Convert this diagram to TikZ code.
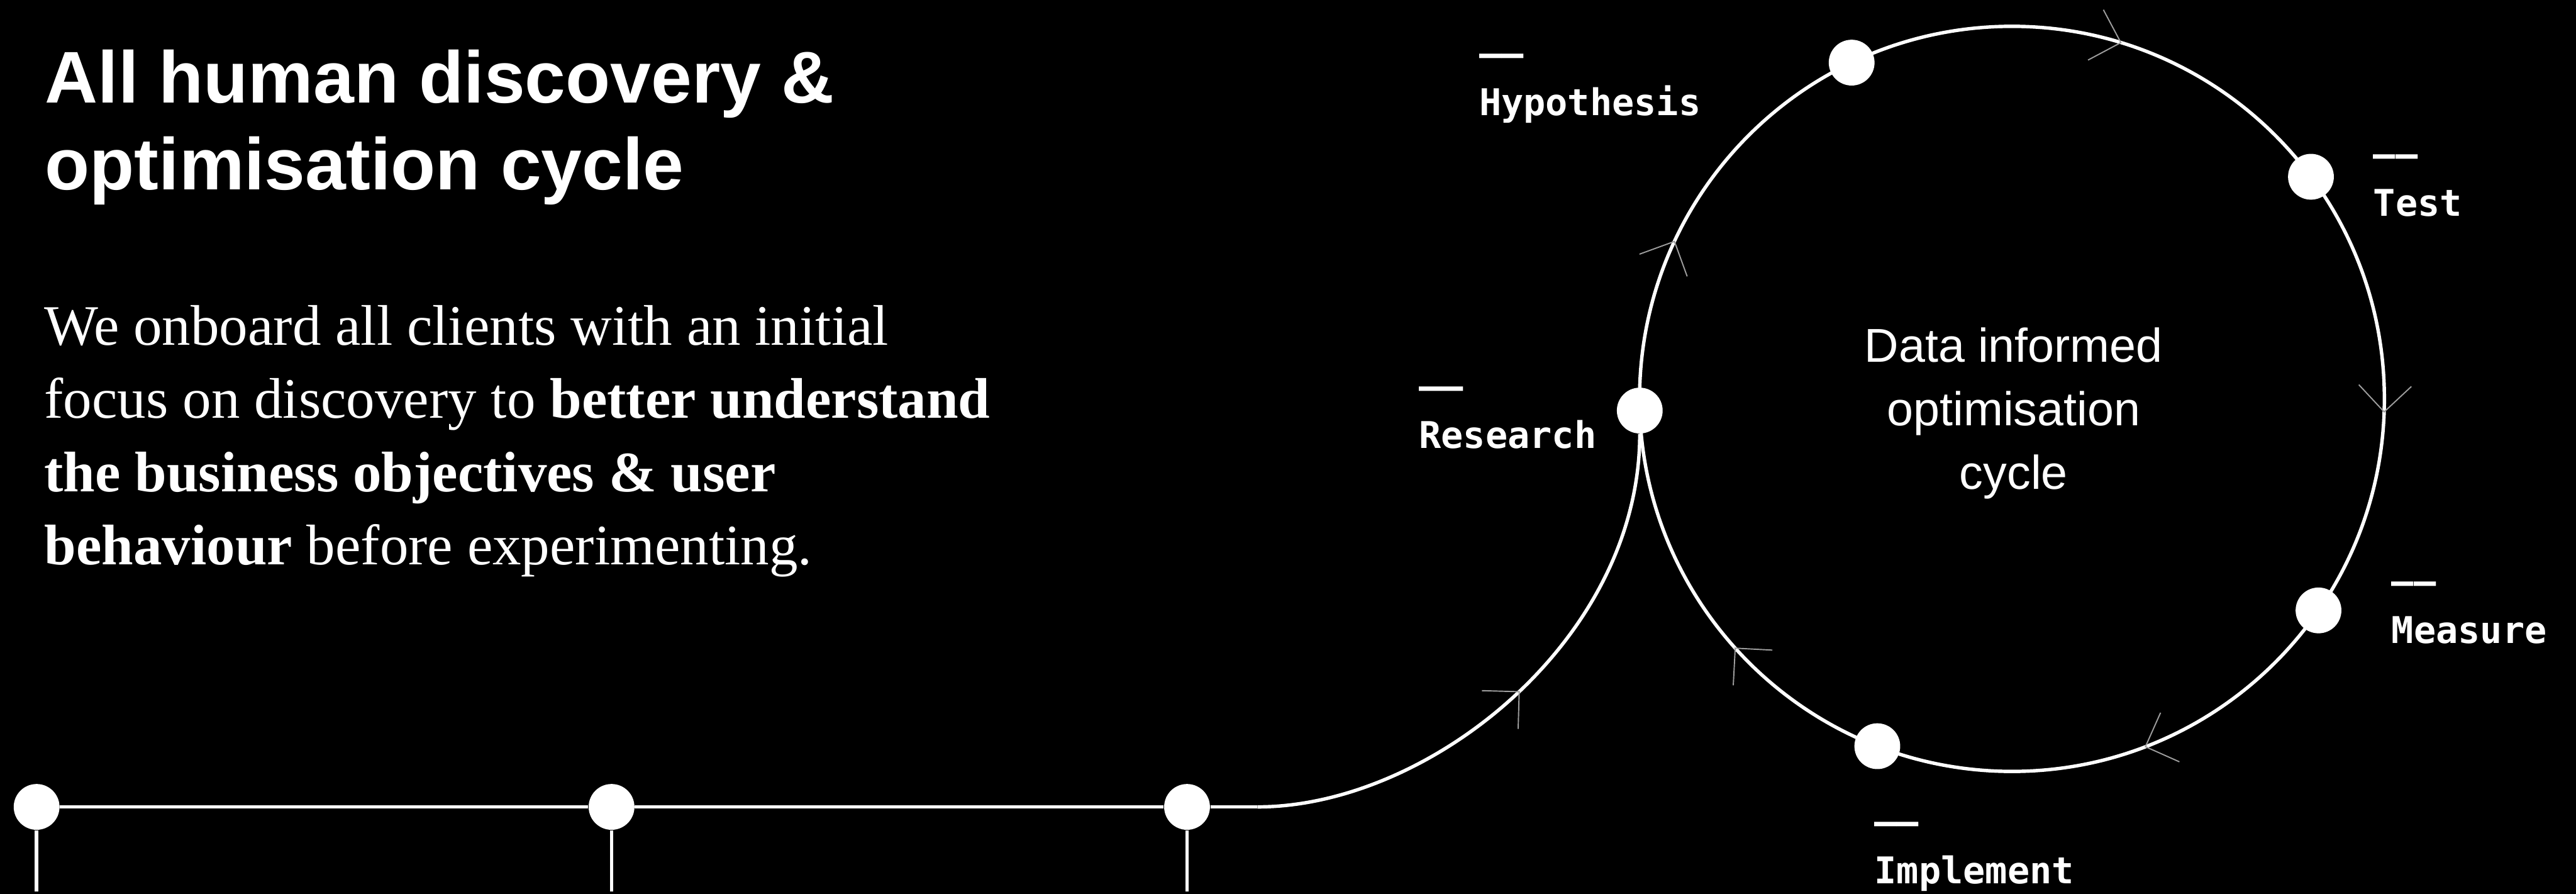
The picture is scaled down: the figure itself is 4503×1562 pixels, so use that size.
\documentclass[tikz,border=0pt]{standalone}
\usepackage{fontspec}
\setmainfont{Liberation Serif}
\newfontfamily\headfont{Liberation Sans}
\newfontfamily\tagfont{DejaVu Sans Mono}
\usepackage{tikz}
\usetikzlibrary{decorations.markings}
\definecolor{tickgray}{gray}{0.62}

\begin{document}
\begin{tikzpicture}[
x=0.01cm, y=0.01cm,
line/.style={white, line width=1.7pt},
dot/.style={circle, fill=white, minimum size=0.8cm, inner sep=0pt},
chev/.style={tickgray, line width=0.6pt},
tag/.style={text=white, inner sep=0pt, anchor=base west,
	font=\tagfont\bfseries\fontsize{18.3pt}{24pt}\selectfont},
flow/.style={postaction={decorate}, decoration={markings,
	mark=at position .5 with {\draw[chev] (-46,46) -- (0,0) -- (-46,-46);}}}
]
\fill[black] (0,0) rectangle (4503,1562);
\useasboundingbox (0,0) rectangle (4503,1562);

\node[text=white, inner sep=0pt, anchor=base west, align=left,
	font=\headfont\bfseries\fontsize{36.4pt}{43.2pt}\selectfont] (title) at (78,1230)
	{All human discovery \&\\optimisation cycle};
\node[text=white, inner sep=0pt, anchor=base west, align=left,
	font=\fontsize{28.45pt}{36.4pt}\selectfont] (intro) at (77,575)
	{We onboard all clients with an initial\\
	focus on discovery to \textbf{better understand}\\
	\textbf{the business objectives \& user}\\
	\textbf{behaviour} before experimenting.};

\coordinate (C) at (3517,865);
\node[text=white, inner sep=0pt, anchor=base, align=center,
	font=\headfont\fontsize{23.6pt}{31.6pt}\selectfont] (core) at (3520,707)
	{Data informed\\optimisation\\cycle};

\node[dot] (hyp) at ([shift={(115.5:651)}]C) {};
\node[dot] (test) at ([shift={(36.6:651)}]C) {};
\node[dot] (meas) at ([shift={(-34.6:651)}]C) {};
\node[dot] (impl) at ([shift={(-111.2:651)}]C) {};
\node[dot] (res) at ([shift={(181.8:651)}]C) {};

\node[dot] (b1) at (64,152) {};
\node[dot] (b2) at (1069,152) {};
\node[dot] (b3) at (2075,152) {};
\coordinate (bend) at (2198,152);
\coordinate (floor) at (0,4);

\draw[line] (C) circle[radius=651];
\foreach \a in {73,-2,-69,-138,155}
	\draw[chev] ([shift={(\a:651)}]C) ++(\a+45:65) -- ([shift={(\a:651)}]C) -- ++(\a+135:65);

\draw[line] (b1) -- (b2) -- (b3) -- (bend);
\draw[line, flow] (bend) .. controls +(300,0) and +(0,-400) .. (res);
\foreach \n in {b1,b2,b3}
	\draw[line] (\n) -- (\n |- floor);

\node[tag] (hyp-l) at (2585,1360) {Hypothesis};
\node[tag] (test-l) at (4148,1184) {Test};
\node[tag] (res-l) at (2480,779) {Research};
\node[tag] (meas-l) at (4180,438) {Measure};
\node[tag] (impl-l) at (3276,18) {Implement};
\foreach \n in {hyp-l,test-l,res-l,meas-l,impl-l}
	\node[tag] at ([yshift=86*0.01cm]\n.base west) {——};
\end{tikzpicture}
\end{document}
